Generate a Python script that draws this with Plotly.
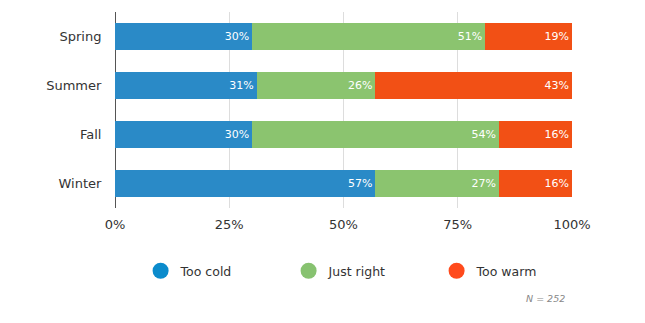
import plotly.graph_objects as go

seasons = ["Spring", "Summer", "Fall", "Winter"]
series_names = ["Too cold", "Just right", "Too warm"]
too_cold = [30, 31, 30, 57]
just_right = [51, 26, 54, 27]
too_warm = [19, 43, 16, 16]
bar_colors = ["#2a8ac7", "#8bc46f", "#f25015"]
legend_colors = ["#0b8bcc", "#87c270", "#ff4a1c"]
x_ticks = [0, 25, 50, 75, 100]
x_tick_labels = ["0%", "25%", "50%", "75%", "100%"]
note = "N = 252"

FONT = "DejaVu Sans, Verdana, sans-serif"

fig = go.Figure()
for name, vals, col in zip(series_names, [too_cold, just_right, too_warm], bar_colors):
    fig.add_trace(go.Bar(
        y=seasons, x=vals, name=name, orientation="h",
        marker=dict(color=col, line=dict(width=0)),
        text=[f"{v}%" for v in vals], textposition="inside",
        insidetextanchor="end", textangle=0,
        textfont=dict(color="white", size=11, family=FONT),
        width=0.54, showlegend=False, hoverinfo="skip",
    ))

for name, col in zip(series_names, legend_colors):
    fig.add_trace(go.Scatter(
        x=[None], y=[None], mode="markers", name=name,
        marker=dict(symbol="circle", size=16, color=col),
        showlegend=True,
    ))

fig.update_layout(
    barmode="stack",
    width=645, height=323,
    margin=dict(l=115, r=73, t=11.5, b=114.5),
    paper_bgcolor="white", plot_bgcolor="white",
    font=dict(family=FONT, color="#333", size=13),
    legend=dict(
        orientation="h", traceorder="normal",
        x=0.056, xanchor="left", y=-0.322, yanchor="middle",
        entrywidth=103, entrywidthmode="pixels",
        font=dict(size=12.5, color="#333", family=FONT),
        bgcolor="rgba(0,0,0,0)",
    ),
    annotations=[dict(
        text=note, xref="paper", yref="paper", x=0.988, y=-0.46,
        xanchor="right", yanchor="middle", showarrow=False,
        font=dict(size=9.5, color="#888", family=FONT, style="italic"),
    )],
)
fig.update_xaxes(
    range=[0, 100], tickvals=x_ticks, ticktext=x_tick_labels,
    showgrid=True, gridcolor="#dddddd", gridwidth=1,
    zeroline=True, zerolinecolor="#555", zerolinewidth=1,
    showline=False, ticks="outside", ticklen=4, tickcolor="rgba(0,0,0,0)",
    tickfont=dict(size=13, color="#333"), fixedrange=True,
)
fig.update_yaxes(
    categoryorder="array", categoryarray=seasons, autorange="reversed",
    showgrid=False, zeroline=False, showline=False,
    ticks="outside", ticklen=10, tickcolor="rgba(0,0,0,0)",
    tickfont=dict(size=13, color="#333"), fixedrange=True,
)

fig.write_html("out.html")
